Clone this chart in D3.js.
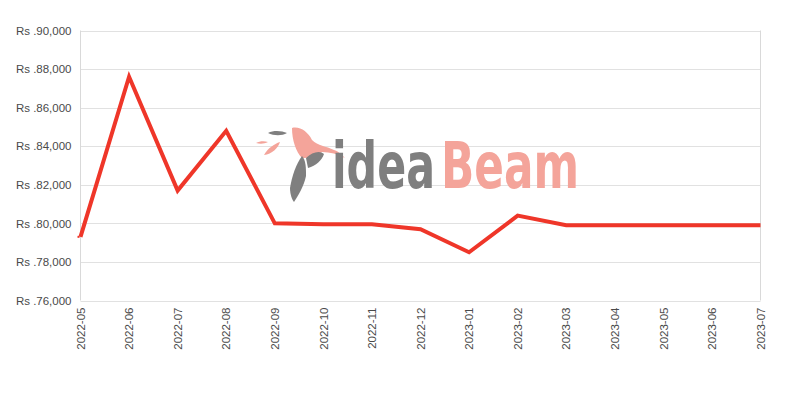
<!DOCTYPE html>
<html><head><meta charset="utf-8">
<script src="https://cdn.jsdelivr.net/npm/d3@7"></script>
<style>body{margin:0;background:#fff}svg{display:block}</style>
</head><body><svg id="c" width="800" height="400"></svg>
<script>
const months = ["2022-05","2022-06","2022-07","2022-08","2022-09","2022-10","2022-11","2022-12","2023-01","2023-02","2023-03","2023-04","2023-05","2023-06","2023-07"];
const prices = [79300,87600,81700,84800,80000,79950,79950,79700,78500,80400,79900,79900,79900,79900,79900];
const yTicks = [76000,78000,80000,82000,84000,86000,88000,90000];

const svg = d3.select("#c");
const m = {l:80.5, r:760.5, t:30.5, b:300.5};
const x = d3.scalePoint().domain(months).range([m.l, m.r]);
const y = d3.scaleLinear().domain([76000,90000]).range([m.b, m.t]);
const fmt = d3.format(",");

// grid
svg.append("g").selectAll("line").data(yTicks).join("line")
  .attr("x1", m.l).attr("x2", m.r)
  .attr("y1", d => Math.round(y(d))+0.5).attr("y2", d => Math.round(y(d))+0.5)
  .attr("stroke", "#e1e1e1").attr("stroke-width", 1);
svg.append("line").attr("x1", m.l).attr("x2", m.l).attr("y1", m.t).attr("y2", m.b).attr("stroke","#d9d9d9");
svg.append("line").attr("x1", m.r).attr("x2", m.r).attr("y1", m.t).attr("y2", m.b).attr("stroke","#d9d9d9");

// y axis
const ya = svg.append("g").attr("transform", `translate(${m.l},0)`)
  .call(d3.axisLeft(y).tickValues(yTicks).tickSize(0).tickPadding(9).tickFormat(d => "Rs ." + fmt(d)));
ya.select(".domain").remove();
ya.selectAll("text").attr("font-family","Liberation Sans, Arial, sans-serif").attr("font-size", 11.5).attr("fill","#4a4a4a");

// x axis
const xa = svg.append("g").attr("transform", `translate(0,${m.b})`)
  .call(d3.axisBottom(x).tickSize(0).tickPadding(0));
xa.select(".domain").remove();
xa.selectAll("text")
  .attr("font-family","Liberation Sans, Arial, sans-serif").attr("font-size", 11.5).attr("fill","#4a4a4a")
  .attr("transform","rotate(-90)").attr("text-anchor","end").attr("dx","-7").attr("dy","0.32em").attr("y",0).attr("x",0);

// watermark logo
const wm = svg.append("g");
wm.append("path").attr("fill","#f4a49a")
  .attr("d","M292,128 C300,126 308,132 312,140 C318,146 326,146 334,150 C340,152 343,156 345,158 C338,154 330,152 322,152 C316,156 310,158 302,158 C296,152 292,140 292,128 Z");
wm.append("path").attr("fill","#7f7f7f")
  .attr("d","M302,156 C296,164 292,176 290,188 C290,194 292,200 294,202 C298,196 304,186 306,176 C306,168 306,160 302,156 Z");
wm.append("path").attr("fill","#7f7f7f")
  .attr("d","M306,158 C312,152 320,150 324,154 C322,160 316,166 308,168 Z");
wm.append("path").attr("fill","#7f7f7f")
  .attr("d","M268,133 C274,130 282,131 287,133 C282,136 274,136 268,133 Z");
wm.append("path").attr("fill","#f4a49a")
  .attr("d","M256,143 C260,141 264,141 268,142 C264,144 260,144 256,143 Z");
wm.append("path").attr("fill","#f4a49a")
  .attr("d","M264,155 C268,148 274,144 280,142 C278,148 272,154 264,155 Z");
function logoWord(txt, x0, w, color) {
  const t = wm.append("text").attr("x", 0).attr("y", 0)
    .attr("font-family","DejaVu Sans Condensed, DejaVu Sans, sans-serif").attr("font-size", 64)
    .attr("font-weight", "bold").attr("fill", color).text(txt);
  const nat = t.node().getComputedTextLength();
  t.attr("transform", `translate(${x0},188) scale(${w/nat},1)`);
}
logoWord("idea", 332, 103, "#7f7f7f");
logoWord("Beam", 441, 138, "#f4a49a");

// line
svg.append("path").datum(prices)
  .attr("fill","none").attr("stroke","#ef3629").attr("stroke-width",4).attr("stroke-linejoin","miter")
  .attr("d", d3.line().x((d,i) => x(months[i])).y(d => y(d)));
svg.append("rect").attr("x", x(months[0])-3).attr("y", y(prices[0])-1).attr("width",2).attr("height",2).attr("fill","#ef3629");
</script></body></html>
